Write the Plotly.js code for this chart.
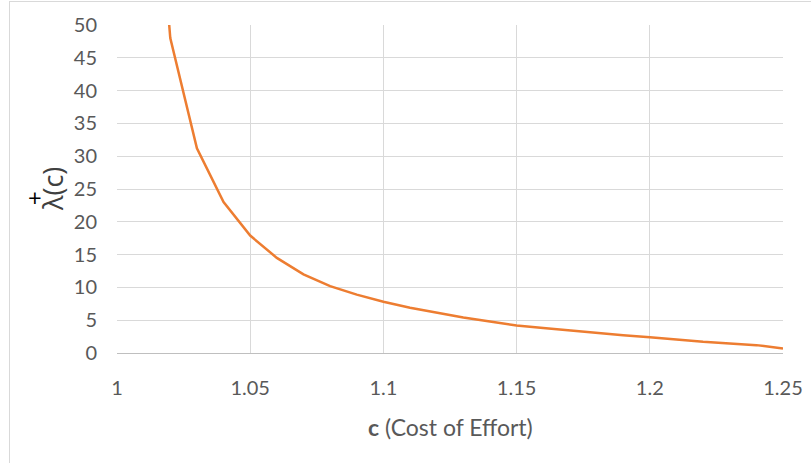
<!DOCTYPE html>
<html>
<head>
<meta charset="utf-8">
<script src="https://cdn.plot.ly/plotly-3.0.1.min.js"></script>
<style>
  html, body { margin: 0; padding: 0; background: #fff; overflow: hidden; }
  #wrap { position: relative; width: 811px; height: 463px; }
  #chart { position: absolute; left: 0; top: 0; width: 811px; height: 463px; }
  #frame { position: absolute; left: 9px; top: 1px; width: 900px; height: 600px;
           border: 1px solid #d9d9d9; pointer-events: none; box-sizing: border-box; }
</style>
</head>
<body>
<div id="wrap">
  <div id="chart"></div>
  <div id="frame"></div>
</div>
<script>
// Cost of effort c
const costValues = [1.01, 1.02, 1.03, 1.04, 1.05, 1.06, 1.07, 1.08, 1.09, 1.10,
                    1.11, 1.12, 1.13, 1.14, 1.15, 1.16, 1.17, 1.18, 1.19, 1.20,
                    1.21, 1.22, 1.23, 1.24, 1.25];
// lambda+(c)
const lambdaValues = [98, 48, 31.2, 23.0, 17.9, 14.5, 12.0, 10.2, 8.9, 7.8,
                      6.9, 6.1, 5.4, 4.8, 4.2, 3.8, 3.4, 3.0, 2.7, 2.4,
                      2.0, 1.7, 1.45, 1.2, 0.7];
const xTickValues = [1, 1.05, 1.1, 1.15, 1.2, 1.25];
const xTickLabels = ["1", "1.05", "1.1", "1.15", "1.2", "1.25"];
const yTickValues = [0, 5, 10, 15, 20, 25, 30, 35, 40, 45, 50];

const tickFont = { family: "Lato, 'Open Sans', sans-serif", size: 20, color: "#595959" };

const trace = {
  x: costValues,
  y: lambdaValues,
  type: "scatter",
  mode: "lines",
  line: { color: "#ED7D31", width: 2.5 },
  cliponaxis: true,
  hoverinfo: "skip"
};

const layout = {
  width: 811,
  height: 463,
  margin: { l: 117, r: 28, t: 25, b: 110 },
  paper_bgcolor: "#ffffff",
  plot_bgcolor: "#ffffff",
  showlegend: false,
  xaxis: {
    range: [1, 1.25],
    tickmode: "array",
    tickvals: xTickValues,
    ticktext: xTickLabels,
    showgrid: true,
    gridcolor: "#d9d9d9",
    gridwidth: 1,
    zeroline: false,
    showline: true,
    linecolor: "#bfbfbf",
    linewidth: 1,
    ticks: "",
    ticklabelstandoff: 17,
    tickfont: tickFont,
    fixedrange: true
  },
  yaxis: {
    range: [0, 50],
    tickmode: "array",
    tickvals: yTickValues,
    showgrid: true,
    gridcolor: "#d9d9d9",
    gridwidth: 1,
    zeroline: false,
    showline: false,
    ticks: "",
    ticklabelstandoff: 19,
    tickfont: tickFont,
    fixedrange: true
  },
  annotations: [
    {
      xref: "paper", yref: "paper",
      x: 0.5, y: -0.2256,
      xanchor: "center", yanchor: "middle",
      showarrow: false,
      text: "<b>c</b> (Cost of Effort)",
      font: { family: "Lato, 'Open Sans', sans-serif", size: 23, color: "#595959" }
    },
    {
      xref: "paper", yref: "paper",
      x: -0.0976, y: 0.5,
      xanchor: "center", yanchor: "middle",
      showarrow: false,
      textangle: -90,
      text: "λ(c)",
      font: { family: "'Open Sans', sans-serif", size: 27, color: "#404040" }
    },
    {
      xref: "paper", yref: "paper",
      x: -0.123, y: 0.4726,
      xanchor: "center", yanchor: "middle",
      showarrow: false,
      text: "+",
      font: { family: "'Open Sans', sans-serif", size: 24, color: "#000000" }
    }
  ]
};

Plotly.newPlot("chart", [trace], layout, { staticPlot: true, displayModeBar: false });
</script>
</body>
</html>
